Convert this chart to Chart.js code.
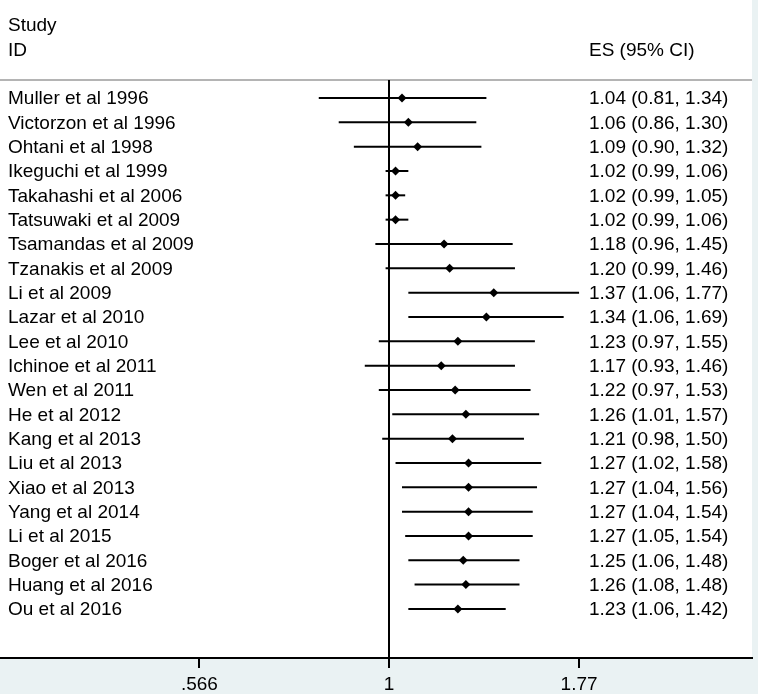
<!DOCTYPE html>
<html>
<head>
<meta charset="utf-8">
<script src="https://cdn.jsdelivr.net/npm/chart.js@4.4.1/dist/chart.umd.min.js"></script>
<style>
  html, body { margin: 0; padding: 0; background: #eaf2f3; }
  #wrap { width: 758px; height: 694px; }
</style>
</head>
<body>
<div id="wrap"><canvas id="forest" width="758" height="694"></canvas></div>
<script>
// Study data (ES and 95% CI)
const studies = [
    "Muller et al 1996", "Victorzon et al 1996", "Ohtani et al 1998", "Ikeguchi et al 1999",
    "Takahashi et al 2006", "Tatsuwaki et al 2009", "Tsamandas et al 2009", "Tzanakis et al 2009",
    "Li et al 2009", "Lazar et al 2010", "Lee et al 2010", "Ichinoe et al 2011",
    "Wen et al 2011", "He et al 2012", "Kang et al 2013", "Liu et al 2013",
    "Xiao et al 2013", "Yang et al 2014", "Li et al 2015", "Boger et al 2016",
    "Huang et al 2016", "Ou et al 2016"
];
const es    = [1.04, 1.06, 1.09, 1.02, 1.02, 1.02, 1.18, 1.20, 1.37, 1.34, 1.23, 1.17, 1.22, 1.26, 1.21, 1.27, 1.27, 1.27, 1.27, 1.25, 1.26, 1.23];
const lower = [0.81, 0.86, 0.90, 0.99, 0.99, 0.99, 0.96, 0.99, 1.06, 1.06, 0.97, 0.93, 0.97, 1.01, 0.98, 1.02, 1.04, 1.04, 1.05, 1.06, 1.08, 1.06];
const upper = [1.34, 1.30, 1.32, 1.06, 1.05, 1.06, 1.45, 1.46, 1.77, 1.69, 1.55, 1.46, 1.53, 1.57, 1.50, 1.58, 1.56, 1.54, 1.54, 1.48, 1.48, 1.42];

const tickValues = [0.566, 1, 1.77];
const tickLabels = [".566", "1", "1.77"];

const FONT = '"Liberation Sans", Arial, sans-serif';

// One line dataset per confidence interval
const ciSets = studies.map((s, i) => ({
    data: [{ x: lower[i], y: i }, { x: upper[i], y: i }],
    showLine: true,
    borderColor: "#000",
    borderWidth: 2,
    pointRadius: 0
}));

const pointSet = {
    data: es.map((v, i) => ({ x: v, y: i })),
    showLine: false,
    pointStyle: "rectRot",
    pointRadius: 4.5,
    backgroundColor: "#000",
    borderColor: "#000",
    borderWidth: 0
};

// Background, header, null line and text columns
const forestPlugin = {
    id: "forest",
    beforeDraw(chart) {
        const { ctx, chartArea } = chart;
        ctx.save();
        ctx.fillStyle = "#eaf2f3";
        ctx.fillRect(0, 0, chart.width, chart.height);
        ctx.fillStyle = "#ffffff";
        ctx.fillRect(0, 0, chartArea.right, chartArea.bottom);
        ctx.restore();
    },
    afterDatasetsDraw(chart) {
        const { ctx, chartArea, scales } = chart;
        const xs = scales.x, ys = scales.y;
        const headLine = 80;
        ctx.save();
        // header separator
        ctx.strokeStyle = "#b4b4b4";
        ctx.lineWidth = 2;
        ctx.beginPath();
        ctx.moveTo(0, headLine);
        ctx.lineTo(chartArea.right, headLine);
        ctx.stroke();
        // null line at 1
        const x1 = Math.round(xs.getPixelForValue(1));
        ctx.strokeStyle = "#000";
        ctx.beginPath();
        ctx.moveTo(x1, headLine);
        ctx.lineTo(x1, chartArea.bottom);
        ctx.stroke();

        ctx.fillStyle = "#000";
        ctx.font = "19px " + FONT;
        ctx.textBaseline = "middle";
        ctx.textAlign = "left";
        ctx.fillText("Study", 8, ys.getPixelForValue(-3) + 1);
        ctx.fillText("ID", 8, ys.getPixelForValue(-2) + 1);
        ctx.fillText("ES (95% CI)", 589, ys.getPixelForValue(-2) + 1);
        studies.forEach((s, i) => {
            const y = ys.getPixelForValue(i) + 1;
            ctx.fillText(s, 8, y);
            const txt = es[i].toFixed(2) + " (" + lower[i].toFixed(2) + ", " + upper[i].toFixed(2) + ")";
            ctx.fillText(txt, 589, y);
        });
        ctx.restore();
    }
};

new Chart(document.getElementById("forest"), {
    type: "scatter",
    data: { datasets: [...ciSets, pointSet] },
    options: {
        responsive: false,
        animation: false,
        layout: { autoPadding: false, padding: { left: 0, right: 6, top: 0, bottom: 0 } },
        plugins: {
            legend: { display: false },
            tooltip: { enabled: false }
        },
        scales: {
            x: {
                type: "logarithmic",
                bounds: "data",
                min: 0.311,
                max: 2.975,
                afterBuildTicks: scale => {
                    scale.ticks = tickValues.map(v => ({ value: v }));
                },
                afterFit: scale => { scale.height = 36; },
                ticks: {
                    autoSkip: false,
                    maxRotation: 0,
                    padding: 5,
                    color: "#000",
                    font: { family: FONT, size: 19 },
                    callback: (value, index) => tickLabels[index]
                },
                grid: {
                    drawOnChartArea: false,
                    drawTicks: true,
                    tickLength: 10,
                    color: "#000",
                    lineWidth: 2
                },
                border: { display: true, color: "#000", width: 2 }
            },
            y: {
                type: "linear",
                reverse: true,
                min: -4.028,
                max: 23.016,
                display: false
            }
        }
    },
    plugins: [forestPlugin]
});
</script>
</body>
</html>
